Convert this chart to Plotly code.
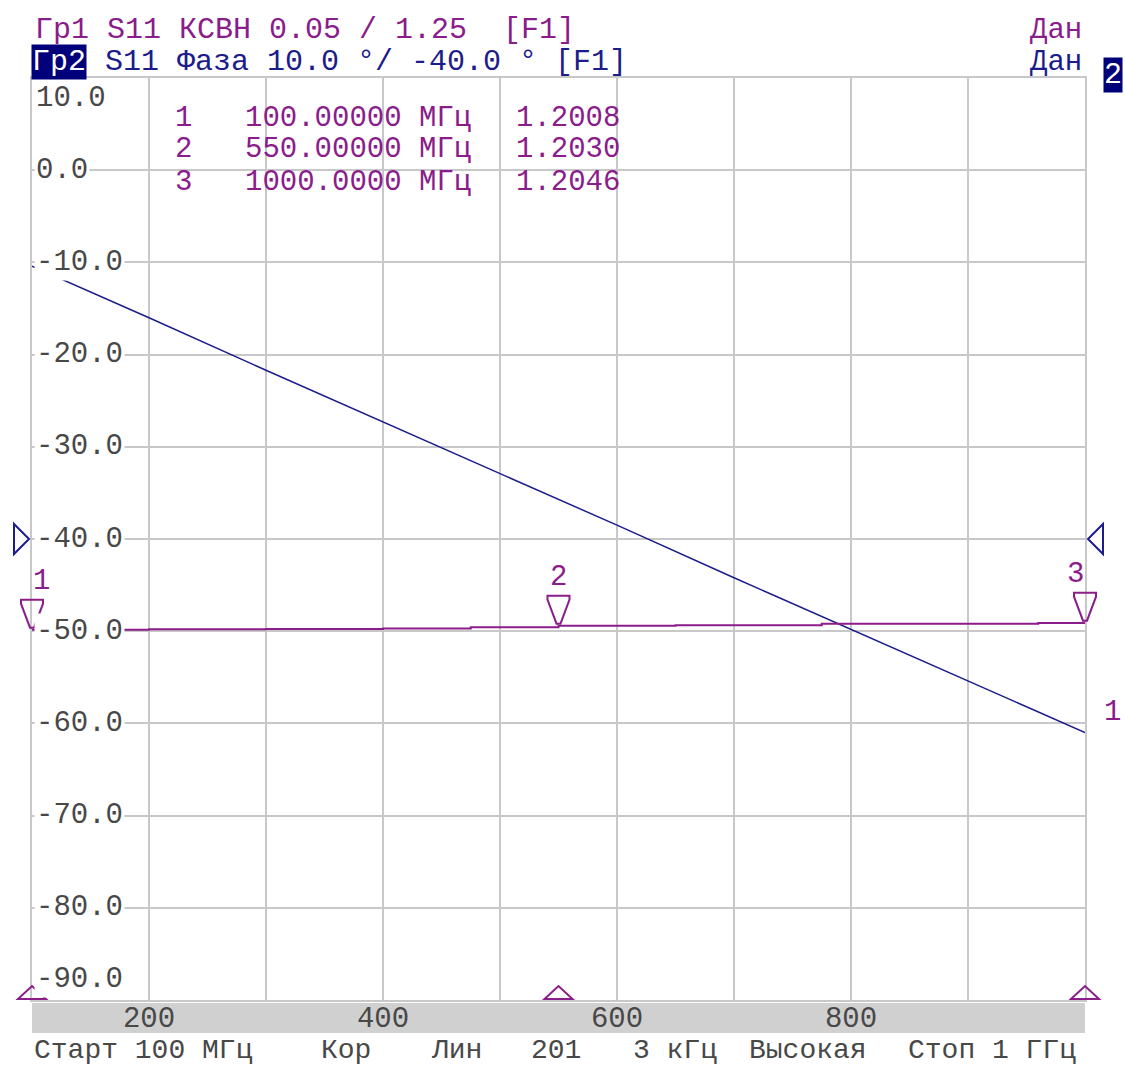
import plotly.graph_objects as go

# Stimulus frequencies, MHz
freq_mhz = [100, 200, 300, 400, 500, 600, 700, 800, 900, 1000]
# Trace 2: S11 phase, degrees
phase_deg = [-10.4, -16.0, -21.7, -27.3, -32.9, -38.5, -44.2, -49.8, -55.4, -61.0]

# Trace 1: S11 VSWR
vswr_freq = [100, 200, 300, 400, 475, 550, 650, 775, 900, 960, 1000]
vswr_val = [1.2008, 1.2010, 1.2012, 1.2014, 1.2022, 1.2030, 1.2032, 1.2040, 1.2041, 1.2044, 1.2046]

# Markers (frequency, VSWR)
marker_ids = ["1", "2", "3"]
marker_freq = [100, 550, 1000]
marker_vswr = [1.2008, 1.2030, 1.2046]
marker_freq_text = ["100.00000 МГц", "550.00000 МГц", "1000.0000 МГц"]

# Axis settings
phase_ticks = [10, 0, -10, -20, -30, -40, -50, -60, -70, -80, -90]
phase_ref, phase_div = -40.0, 10.0
vswr_ref, vswr_div = 1.25, 0.05
x_range = [100, 1000]
x_tickvals = [100, 200, 300, 400, 500, 600, 700, 800, 900, 1000]
x_ticktext = ["", "200", "", "400", "", "600", "", "800", "", ""]

status_items = [("Старт 100 МГц", 33), ("Кор", 320), ("Лин", 430), ("201", 530),
                ("3 кГц", 632), ("Высокая", 748), ("Стоп 1 ГГц", 907)]

W, H = 1125, 1068
L, R, T, B = 32, 1085, 78, 1000
PURPLE = "#8b1c8b"
NAVY = "#1c1c8c"
BOX = "#00007a"
GRAY_TXT = "#484848"
GRID = "#c8c8c8"
FONT = "Liberation Mono"
FS = 29

n_div_up = (phase_ticks[0] - phase_ref) / phase_div
n_div_dn = (phase_ref - phase_ticks[-1]) / phase_div
y2_range = [vswr_ref - n_div_dn * vswr_div, vswr_ref + n_div_up * vswr_div]


def px(x):
    return (x - L) / (R - L)


def py(y):
    return (B - y) / (B - T)


def xpaper(f):
    # frequency -> fraction of the x axis
    return (f - x_range[0]) / (x_range[1] - x_range[0])


def y2paper(v):
    # VSWR -> fraction of the y axis
    return (v - y2_range[0]) / (y2_range[1] - y2_range[0])


def ypaper(v):
    return (v - phase_ticks[-1]) / (phase_ticks[0] - phase_ticks[-1])


fig = go.Figure()
fig.add_trace(go.Scatter(x=freq_mhz, y=phase_deg, mode="lines",
                         line=dict(color=NAVY, width=1.5), yaxis="y", showlegend=False,
                         hoverinfo="skip"))
fig.add_trace(go.Scatter(x=vswr_freq, y=vswr_val, mode="lines",
                         line=dict(color=PURPLE, width=2, shape="hv"), yaxis="y2",
                         showlegend=False, hoverinfo="skip"))

fig.update_layout(
    width=W, height=H,
    margin=dict(l=L, r=W - R, t=T, b=H - B),
    paper_bgcolor="white", plot_bgcolor="white",
    font=dict(family=FONT, size=FS, color=GRAY_TXT),
    xaxis=dict(range=x_range, tickvals=x_tickvals, ticktext=x_ticktext,
               showgrid=True, gridcolor=GRID, gridwidth=2, zeroline=False,
               showline=True, linecolor=GRID, linewidth=2, mirror=True,
               ticks="", ticklabelstandoff=-10,
               tickfont=dict(family=FONT, size=FS, color=GRAY_TXT)),
    yaxis=dict(range=[phase_ticks[-1], phase_ticks[0]], tickvals=phase_ticks,
               showticklabels=False, showgrid=True, gridcolor=GRID, gridwidth=2,
               zeroline=False, showline=True, linecolor=GRID, linewidth=2, mirror=True,
               ticks=""),
    yaxis2=dict(range=y2_range, overlaying="y", side="right", visible=False,
                showgrid=False),
)

ann = []
shapes = []

# gray stimulus bar below the grid
shapes.append(dict(type="rect", xref="paper", yref="paper", x0=0, x1=1,
                   y0=py(1033), y1=py(1003), fillcolor="#d0d0d0", line=dict(width=0),
                   layer="below"))

# phase scale labels drawn inside the grid
for v in phase_ticks:
    if v == phase_ticks[0]:
        ya, ys = "top", -2
    elif v == phase_ticks[-1]:
        ya, ys = "bottom", 2
    else:
        ya, ys = "middle", 0
    ann.append(dict(x=px(34), xref="paper", y=v, yref="y", text=f"{v:.1f}",
                    showarrow=False, xanchor="left", yanchor=ya, yshift=ys,
                    bgcolor="white", borderpad=1,
                    font=dict(family=FONT, size=FS, color=GRAY_TXT)))

# header lines
ann.append(dict(x=px(33), y=py(30), xref="paper", yref="paper", showarrow=False,
                xanchor="left", yanchor="middle",
                text="Гр1 S11 КСВН 0.05 / 1.25  [F1]",
                font=dict(family=FONT, size=30, color=PURPLE)))
ann.append(dict(x=px(31), y=py(62), xref="paper", yref="paper", showarrow=False,
                xanchor="left", yanchor="middle", text="Гр2", bgcolor=BOX,
                borderpad=0, font=dict(family=FONT, size=30, color="white")))
ann.append(dict(x=px(103), y=py(62), xref="paper", yref="paper", showarrow=False,
                xanchor="left", yanchor="middle",
                text="S11 Фаза 10.0 °/ -40.0 ° [F1]",
                font=dict(family=FONT, size=30, color=NAVY)))
ann.append(dict(x=px(1084), y=py(30), xref="paper", yref="paper", showarrow=False,
                xanchor="right", yanchor="middle", text="Дан",
                font=dict(family=FONT, size=FS, color=PURPLE)))
ann.append(dict(x=px(1084), y=py(62), xref="paper", yref="paper", showarrow=False,
                xanchor="right", yanchor="middle", text="Дан",
                font=dict(family=FONT, size=FS, color=NAVY)))
ann.append(dict(x=px(1113), y=py(75), xref="paper", yref="paper", showarrow=False,
                xanchor="center", yanchor="middle", text="2", bgcolor=BOX,
                borderpad=0, font=dict(family=FONT, size=30, color="white")))

# marker readout table
for i, (mid, ftxt, val) in enumerate(zip(marker_ids, marker_freq_text, marker_vswr)):
    yy = py(118 + 32 * i)
    ann.append(dict(x=px(173), y=yy, xref="paper", yref="paper", showarrow=False,
                    xanchor="left", yanchor="middle", text=mid,
                    font=dict(family=FONT, size=FS, color=PURPLE)))
    ann.append(dict(x=px(243), y=yy, xref="paper", yref="paper", showarrow=False,
                    xanchor="left", yanchor="middle", text=ftxt,
                    font=dict(family=FONT, size=FS, color=PURPLE)))
    ann.append(dict(x=px(514), y=yy, xref="paper", yref="paper", showarrow=False,
                    xanchor="left", yanchor="middle", text=f"{val:.4f}",
                    font=dict(family=FONT, size=FS, color=PURPLE)))

# marker triangles sitting on the VSWR trace, with their numbers
for mid, f, v in zip(marker_ids, marker_freq, marker_vswr):
    shapes.append(dict(type="path", xref="paper", yref="paper", xsizemode="pixel",
                       ysizemode="pixel", xanchor=xpaper(f), yanchor=y2paper(v),
                       path="M -11 30 L 11 30 L 11 26 L 2 2 L -2 2 L -11 26 Z",
                       line=dict(color=PURPLE, width=2), fillcolor="rgba(0,0,0,0)"))
    ann.append(dict(x=xpaper(f), xref="paper", y=y2paper(v), yref="paper", text=mid,
                    showarrow=False, yanchor="bottom", yshift=31, borderpad=0,
                    font=dict(family=FONT, size=FS, color=PURPLE)))
    # stimulus position indicator on the bottom edge
    shapes.append(dict(type="path", xref="paper", yref="paper", xsizemode="pixel",
                       ysizemode="pixel", xanchor=xpaper(f), yanchor=0,
                       path="M -14 1 L 14 1 L 0 14 Z",
                       line=dict(color=PURPLE, width=2), fillcolor="rgba(0,0,0,0)"))

# reference level indicators of the phase trace
shapes.append(dict(type="path", xref="paper", yref="paper", xsizemode="pixel",
                   ysizemode="pixel", xanchor=0, yanchor=ypaper(phase_ref),
                   path="M -18 -15 L -18 15 L -3 0 Z",
                   line=dict(color=NAVY, width=2), fillcolor="rgba(0,0,0,0)"))
shapes.append(dict(type="path", xref="paper", yref="paper", xsizemode="pixel",
                   ysizemode="pixel", xanchor=1, yanchor=ypaper(phase_ref),
                   path="M 18 -15 L 18 15 L 3 0 Z",
                   line=dict(color=NAVY, width=2), fillcolor="rgba(0,0,0,0)"))

# trace number at the right edge
ann.append(dict(x=px(1112), y=py(712), xref="paper", yref="paper", showarrow=False,
                xanchor="center", yanchor="middle", text="1",
                font=dict(family=FONT, size=FS, color=PURPLE)))

# status line, kept inside the page bottom
for txt, x0 in status_items:
    ann.append(dict(x=px(x0), y=py(1067), xref="paper", yref="paper", showarrow=False,
                    xanchor="left", yanchor="bottom", text=txt, borderpad=0,
                    font=dict(family=FONT, size=28, color=GRAY_TXT)))

fig.update_layout(annotations=ann, shapes=shapes)
fig.write_html("out.html")
